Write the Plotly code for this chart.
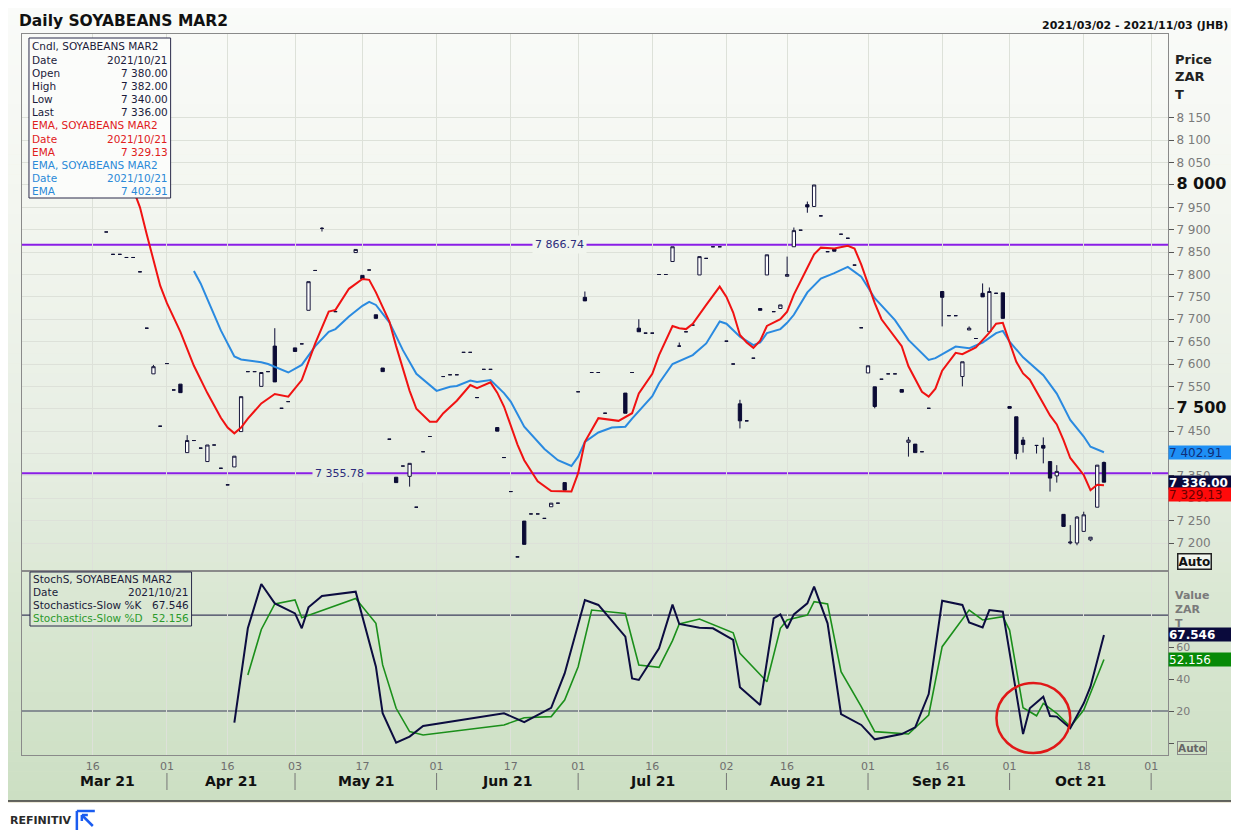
import plotly.graph_objects as go
import pandas as pd

# ---------------- data ----------------
holidays = ["2021-03-22", "2021-04-02", "2021-04-05", "2021-04-27",
            "2021-06-16", "2021-08-09", "2021-09-24"]
trading_dates = [d.strftime("%Y-%m-%d") for d in pd.bdate_range("2021-03-02", "2021-11-03")
                 if d.strftime("%Y-%m-%d") not in holidays]

# days without a real range (open = high = low = close)
flat_days = ["03-18", "03-19", "03-23", "03-24", "03-25", "03-26", "03-29", "03-31", "04-01", "04-06",
             "04-09", "04-12", "04-14", "04-15", "04-16", "04-21", "04-22", "04-26", "04-29", "04-30",
             "05-04", "05-06", "05-11", "05-18", "05-21", "05-25", "05-27", "05-28", "05-31", "06-02",
             "06-03", "06-04", "06-07", "06-08", "06-09", "06-10", "06-11", "06-15", "06-17", "06-18",
             "06-22", "06-23", "06-24", "06-28", "07-01", "07-05", "07-06", "07-07", "07-13", "07-15",
             "07-16", "07-19", "07-20", "07-23", "07-26", "07-28", "07-29", "07-30", "08-02", "08-03",
             "08-05", "08-06", "08-12", "08-18", "08-23", "08-24", "08-26", "08-27", "08-30", "08-31",
             "09-03", "09-06", "09-07", "09-13", "09-14", "09-17", "09-20", "09-23", "09-29"]
flat_price = [7895, 7845, 7845, 7838, 7838, 7806, 7680, 7461, 7601, 7542,
              7429, 7412, 7419, 7367, 7330, 7583, 7583, 7583, 7501, 7516,
              7645, 7809, 7717, 7810, 7432, 7372, 7280, 7404, 7438, 7572,
              7576, 7576, 7626, 7626, 7525, 7588, 7588, 7391, 7315, 7169,
              7265, 7265, 7255, 7289, 7538, 7581, 7581, 7490, 7581, 7669,
              7669, 7800, 7800, 7672, 7687, 7836, 7862, 7862, 7651, 7600,
              7473, 7613, 7717, 7899, 7931, 7851, 7890, 7881, 7821, 7681,
              7566, 7578, 7578, 7404, 7501, 7708, 7708, 7657, 7758]

bar_days = ["03-30", "04-07", "04-08", "04-13", "04-19", "04-20", "04-23", "04-28", "05-03", "05-05",
            "05-07", "05-14", "05-17", "05-19", "05-20", "05-24", "05-26", "06-14", "06-21", "06-25",
            "06-29", "07-02", "07-12", "07-14", "07-21", "07-22", "07-27", "08-04", "08-10", "08-11",
            "08-13", "08-16", "08-17", "08-19", "08-20", "08-25", "09-01", "09-02", "09-08", "09-09",
            "09-10", "09-16", "09-21", "09-22", "09-27", "09-28", "09-30", "10-01", "10-04", "10-05",
            "10-07", "10-08", "10-11", "10-12", "10-13", "10-14", "10-15", "10-18", "10-19", "10-20",
            "10-21"]
bar_open = [7578, 7555, 7402, 7382, 7370, 7449, 7550, 7640, 7636, 7720,
            7903, 7849, 7798, 7710, 7591, 7347, 7349, 7458, 7249, 7281,
            7335, 7749, 7535, 7680, 7829, 7640, 7799, 7511, 7724, 7799,
            7724, 7796, 7862, 7956, 7952, 7858, 7580, 7549, 7543, 7425,
            7421, 7762, 7572, 7676, 7758, 7672, 7759, 7505, 7482, 7430,
            7418, 7418, 7382, 7350, 7264, 7200, 7200, 7226, 7207, 7280,
            7380]
bar_high = [7598, 7555, 7441, 7419, 7394, 7527, 7581, 7680, 7636, 7784,
            7906, 7856, 7798, 7710, 7591, 7347, 7378, 7458, 7249, 7289,
            7335, 7762, 7535, 7700, 7862, 7648, 7840, 7520, 7724, 7844,
            7732, 7840, 7905, 7963, 8000, 7858, 7596, 7549, 7543, 7437,
            7421, 7762, 7605, 7684, 7780, 7771, 7759, 7505, 7482, 7437,
            7418, 7436, 7382, 7374, 7264, 7240, 7260, 7270, 7213, 7374,
            7382]
bar_low = [7578, 7536, 7402, 7382, 7370, 7449, 7550, 7560, 7628, 7720,
           7896, 7849, 7790, 7702, 7583, 7335, 7326, 7450, 7197, 7281,
           7318, 7741, 7490, 7672, 7829, 7640, 7799, 7456, 7720, 7799,
           7724, 7796, 7862, 7938, 7952, 7852, 7580, 7501, 7537, 7393,
           7402, 7684, 7550, 7676, 7750, 7672, 7702, 7501, 7387, 7402,
           7400, 7378, 7315, 7335, 7237, 7197, 7195, 7226, 7204, 7280,
           7340]
bar_close = [7594, 7536, 7429, 7419, 7394, 7527, 7581, 7560, 7628, 7784,
             7903, 7856, 7790, 7702, 7583, 7335, 7378, 7450, 7197, 7289,
             7318, 7741, 7490, 7672, 7862, 7640, 7840, 7473, 7720, 7844,
             7732, 7800, 7898, 7951, 8000, 7852, 7596, 7505, 7537, 7430,
             7402, 7749, 7605, 7680, 7750, 7762, 7702, 7501, 7400, 7420,
             7418, 7412, 7345, 7360, 7237, 7202, 7258, 7263, 7213, 7374,
             7336]

ema_fast_days = ["03-25", "03-26", "03-29", "03-30", "03-31", "04-01", "04-07", "04-09", "04-13", "04-15",
                 "04-16", "04-19", "04-20", "04-21", "04-23", "04-28", "04-30", "05-04", "05-06", "05-10",
                 "05-11", "05-13", "05-17", "05-18", "05-19", "05-21", "05-24", "05-26", "05-27", "05-31",
                 "06-01", "06-02", "06-04", "06-08", "06-09", "06-11", "06-14", "06-15", "06-18", "06-21",
                 "06-23", "06-25", "06-30", "07-01", "07-02", "07-06", "07-08", "07-09", "07-13", "07-14",
                 "07-16", "07-19", "07-21", "07-22", "07-23", "07-26", "07-28", "07-30", "08-02", "08-03",
                 "08-04", "08-05", "08-06", "08-10", "08-11", "08-13", "08-16", "08-17", "08-19", "08-20",
                 "08-23", "08-25", "08-27", "08-30", "08-31", "09-01", "09-02", "09-03", "09-08", "09-09",
                 "09-13", "09-14", "09-15", "09-16", "09-20", "09-21", "09-23", "09-28", "09-29", "09-30",
                 "10-01", "10-04", "10-05", "10-06", "10-08", "10-11", "10-12", "10-13", "10-14", "10-18",
                 "10-19", "10-20", "10-21"]
ema_fast = [7990, 7950, 7890, 7830, 7775, 7736, 7672, 7596, 7535, 7480,
            7458, 7445, 7458, 7478, 7512, 7533, 7527, 7564, 7646, 7717,
            7721, 7768, 7790, 7788, 7760, 7695, 7640, 7540, 7500, 7471,
            7471, 7490, 7518, 7553, 7546, 7559, 7536, 7505, 7420, 7385,
            7338, 7316, 7315, 7356, 7426, 7479, 7476, 7473, 7490, 7534,
            7578, 7620, 7685, 7680, 7678, 7690, 7732, 7773, 7750, 7715,
            7665, 7648, 7636, 7652, 7685, 7700, 7717, 7755, 7815, 7845,
            7860, 7858, 7864, 7858, 7822, 7780, 7736, 7700, 7640, 7595,
            7538, 7527, 7545, 7585, 7625, 7622, 7637, 7670, 7690, 7692,
            7650, 7605, 7579, 7565, 7512, 7485, 7465, 7430, 7390, 7352,
            7318, 7330, 7329.13]

ema_slow_days = ["04-09", "04-12", "04-13", "04-15", "04-19", "04-20", "04-23", "04-26", "04-30", "05-04",
                 "05-06", "05-10", "05-11", "05-13", "05-17", "05-18", "05-19", "05-21", "05-25", "05-27",
                 "06-01", "06-03", "06-04", "06-08", "06-09", "06-11", "06-15", "06-17", "06-21", "06-24",
                 "06-28", "06-30", "07-01", "07-02", "07-06", "07-08", "07-12", "07-13", "07-16", "07-19",
                 "07-21", "07-26", "07-28", "07-30", "08-02", "08-04", "08-06", "08-10", "08-11", "08-13",
                 "08-16", "08-17", "08-19", "08-23", "08-25", "08-27", "08-31", "09-02", "09-07", "09-09",
                 "09-14", "09-15", "09-20", "09-22", "09-27", "09-29", "09-30", "10-01", "10-05", "10-08",
                 "10-12", "10-14", "10-18", "10-19", "10-21"]
ema_slow = [7808, 7780, 7745, 7675, 7617, 7610, 7604, 7600, 7581, 7598,
            7640, 7672, 7678, 7706, 7730, 7739, 7732, 7693, 7631, 7578,
            7540, 7549, 7551, 7563, 7560, 7564, 7535, 7516, 7460, 7410,
            7385, 7372, 7393, 7426, 7447, 7458, 7460, 7478, 7528, 7557,
            7600, 7620, 7646, 7695, 7690, 7661, 7642, 7648, 7669, 7678,
            7692, 7710, 7760, 7791, 7803, 7817, 7795, 7747, 7698, 7654,
            7609, 7613, 7639, 7635, 7648, 7669, 7674, 7650, 7615, 7575,
            7534, 7475, 7438, 7415, 7402.91]

k_days = ["04-19", "04-21", "04-23", "04-28", "05-03", "05-04", "05-05", "05-07", "05-14", "05-19",
          "05-20", "05-24", "05-26", "05-28", "06-15", "06-21", "06-25", "06-29", "07-02", "07-06",
          "07-12", "07-13", "07-14", "07-19", "07-21", "07-22", "07-27", "07-29", "08-03", "08-04",
          "08-10", "08-12", "08-13", "08-16", "08-17", "08-19", "08-20", "08-24", "08-26", "08-31",
          "09-02", "09-08", "09-10", "09-14", "09-16", "09-21", "09-22", "09-27", "09-28", "09-30",
          "10-05", "10-06", "10-08", "10-11", "10-12", "10-14", "10-18", "10-19", "10-21"]
stoch_k = [12.7, 71.7, 99.4, 87.3, 81.0, 71.7, 84.8, 91.9, 94.6, 47.7,
           18.6, 0.2, 4.0, 10.6, 18.6, 13.0, 22.0, 43.5, 89.4, 86.3,
           66.5, 40.4, 39.4, 59.2, 86.5, 74.4, 72.1, 71.7, 64.4, 34.8,
           23.8, 77.9, 80.4, 71.7, 80.4, 87.3, 97.7, 74.8, 18.1, 11.3,
           2.3, 5.6, 9.8, 30.6, 88.9, 86.3, 75.4, 72.3, 83.1, 82.1,
           5.6, 21.7, 28.9, 16.9, 16.5, 9.2, 24.8, 35.2, 67.546]

d_days = ["04-21", "04-23", "04-28", "05-03", "05-04", "05-14", "05-19", "05-20", "05-24", "05-26",
          "05-28", "06-15", "06-21", "06-25", "06-29", "07-01", "07-05", "07-12", "07-14", "07-19",
          "07-21", "07-22", "07-27", "08-03", "08-04", "08-11", "08-13", "08-16", "08-19", "08-20",
          "08-24", "08-26", "08-31", "09-02", "09-09", "09-14", "09-16", "09-22", "09-27", "09-30",
          "10-01", "10-05", "10-07", "10-08", "10-12", "10-14", "10-18", "10-21"]
stoch_d = [42.5, 71.0, 86.9, 89.4, 78.3, 90.4, 74.8, 48.8, 21.7, 7.1,
           5.0, 11.3, 15.8, 16.5, 26.9, 47.7, 83.1, 81.0, 48.8, 47.3,
           64.0, 74.4, 77.5, 68.9, 56.0, 38.3, 71.7, 76.9, 80.0, 88.3,
           86.9, 44.6, 22.7, 7.1, 5.6, 17.5, 60.2, 83.1, 76.9, 79.0,
           70.6, 22.0, 17.0, 24.8, 18.6, 10.2, 20.6, 52.156]

level_hi = 7866.74
level_lo = 7355.78
stoch_levels = [80, 20]

x_tick_days = ["03-16", "04-01", "04-16", "05-03", "05-17", "06-01", "06-17", "07-01",
               "07-16", "08-02", "08-16", "09-01", "09-16", "10-01", "10-18", "11-01"]
x_tick_text = ["16", "01", "16", "03", "17", "01", "17", "01",
               "16", "02", "16", "01", "16", "01", "18", "01"]
month_labels = ["Mar 21", "Apr 21", "May 21", "Jun 21", "Jul 21", "Aug 21", "Sep 21", "Oct 21"]
month_starts = ["04-01", "05-03", "06-01", "07-01", "08-02", "09-01", "10-01", "11-01"]
price_ticks = [7200, 7250, 7300, 7350, 7400, 7450, 7500, 7550, 7600, 7650,
               7700, 7750, 7800, 7850, 7900, 7950, 8000, 8050, 8100, 8150]
stoch_ticks = [0, 20, 40, 60]
stoch_ticktext = ["", "20", "40", "60"]

# ---------------- geometry (screen pixels; the page body adds an 8 px margin) ----------------
OFF = 8
W, H = 1239 - OFF, 830 - OFF
SX0, SX1, SY0, SY1 = 22, 1171, 34, 755        # plot area in screen pixels
L, R, T, B = SX0 - OFF, 1239 - SX1, SY0 - OFF, 830 - SY1
PW, PH = SX1 - SX0, SY1 - SY0
FONT = "DejaVu Sans"


def px(x):
    return (x - SX0) / PW


def py(y):
    return (SY1 - y) / PH


def full(d):
    return "2021-" + d


def fmt(v, dec=0):
    return f"{v:,.{dec}f}".replace(",", " ")


grad_stops = [(5, (250, 251, 249)), (200, (243, 246, 240)), (450, (231, 238, 227)),
              (600, (218, 231, 211)), (801, (204, 223, 195))]


def grad_color(y):
    for (y0, c0), (y1, c1) in zip(grad_stops, grad_stops[1:]):
        if y <= y1:
            t = max(0.0, (y - y0) / (y1 - y0))
            c = [round(a + (b - a) * t) for a, b in zip(c0, c1)]
            return f"rgb({c[0]},{c[1]},{c[2]})"
    c = grad_stops[-1][1]
    return f"rgb({c[0]},{c[1]},{c[2]})"


# merge candles
candles = sorted([(full(d), p, p, p, p) for d, p in zip(flat_days, flat_price)] +
                 [(full(d), o, h, l, c) for d, o, h, l, c in zip(bar_days, bar_open, bar_high, bar_low, bar_close)])
cx = [c[0] for c in candles]

fig = go.Figure()
for xa, ya in (("x", "y"), ("x2", "y2")):
    fig.add_trace(go.Scatter(x=trading_dates, y=[None] * len(trading_dates), mode="lines",
                             xaxis=xa, yaxis=ya, showlegend=False, hoverinfo="skip"))

fig.add_trace(go.Candlestick(
    x=cx, open=[c[1] for c in candles], high=[c[2] for c in candles],
    low=[c[3] for c in candles], close=[c[4] for c in candles],
    xaxis="x", yaxis="y", whiskerwidth=0,
    increasing=dict(line=dict(color="#15153a", width=1), fillcolor="#ffffff"),
    decreasing=dict(line=dict(color="#0b0b35", width=1), fillcolor="#0b0b35"),
    showlegend=False, hoverinfo="skip"))

fig.add_trace(go.Scatter(x=[full(d) for d in ema_slow_days], y=ema_slow, mode="lines",
                         line=dict(color="#2a8ae0", width=2), xaxis="x", yaxis="y",
                         showlegend=False, hoverinfo="skip"))
fig.add_trace(go.Scatter(x=[full(d) for d in ema_fast_days], y=ema_fast, mode="lines",
                         line=dict(color="#f01212", width=2), xaxis="x", yaxis="y",
                         showlegend=False, hoverinfo="skip"))
fig.add_trace(go.Scatter(x=[full(d) for d in d_days], y=stoch_d, mode="lines",
                         line=dict(color="#1b8f1b", width=1.6), xaxis="x2", yaxis="y2",
                         showlegend=False, hoverinfo="skip"))
fig.add_trace(go.Scatter(x=[full(d) for d in k_days], y=stoch_k, mode="lines",
                         line=dict(color="#0c0c40", width=2), xaxis="x2", yaxis="y2",
                         showlegend=False, hoverinfo="skip"))

# ---------------- shapes ----------------
shapes = [dict(type="rect", xref="paper", yref="paper", x0=px(0), x1=px(1239), y0=py(803), y1=py(0),
               fillcolor="#ece9d8", line=dict(width=0), layer="below")]
n_str = 80
for i in range(n_str):
    y0 = 5 + i * 796 / n_str
    y1 = y0 + 796 / n_str + 0.6
    shapes.append(dict(type="rect", xref="paper", yref="paper", x0=px(5), x1=px(1236),
                       y0=py(min(y1, 801)), y1=py(y0), fillcolor=grad_color((y0 + y1) / 2),
                       line=dict(width=0), layer="below"))
shapes.append(dict(type="rect", xref="paper", yref="paper", x0=px(5), x1=px(1236), y0=py(801), y1=py(5),
                   line=dict(color="#3a3a3a", width=1.5), layer="below"))

for lv in (level_hi, level_lo):
    shapes.append(dict(type="line", xref="paper", yref="y", x0=0, x1=1, y0=lv, y1=lv,
                       line=dict(color="#8a1ee6", width=2), layer="between"))
for lv in stoch_levels:
    shapes.append(dict(type="line", xref="paper", yref="y2", x0=0, x1=1, y0=lv, y1=lv,
                       line=dict(color="#3c3c5c", width=1.2), layer="between"))

# month separators
for d in month_starts:
    shapes.append(dict(type="line", xref="x2", yref="paper", x0=full(d), x1=full(d),
                       y0=py(790), y1=py(773), line=dict(color="#777777", width=1)))

# info boxes
shapes.append(dict(type="rect", xref="paper", yref="paper", x0=px(29), x1=px(171), y0=py(198), y1=py(38),
                   fillcolor="#fbfcfa", line=dict(color="#2b2b4b", width=1), layer="above"))
shapes.append(dict(type="rect", xref="paper", yref="paper", x0=px(30), x1=px(192), y0=py(626), y1=py(572),
                   fillcolor=grad_color(600), line=dict(color="#2b2b4b", width=1), layer="above"))

# red circle
shapes.append(dict(type="circle", xref="paper", yref="paper", x0=px(999), x1=px(1073), y0=py(753), y1=py(683),
                   line=dict(color="#e01818", width=2.5), layer="above"))

# Refinitiv mark
for (xa, ya, xb, yb) in [(77, 811, 95, 811), (77, 811, 77, 830), (82, 815, 93, 826), (82, 815, 88, 815), (82, 815, 82, 821)]:
    shapes.append(dict(type="line", xref="paper", yref="paper", x0=px(xa), y0=py(ya), x1=px(xb), y1=py(yb),
                       line=dict(color="#1a5cf0", width=2.5)))

# ---------------- annotations ----------------
annotations = []


def ann(x, y, text, size=11, color="#222", bold=False, xanchor="left", yanchor="middle", **kw):
    annotations.append(dict(x=px(x), y=py(y), xref="paper", yref="paper",
                            text=f"<b>{text}</b>" if bold else text, showarrow=False,
                            xanchor=xanchor, yanchor=yanchor,
                            font=dict(family=FONT, size=size, color=color), **kw))


ann(17, 21, "Daily SOYABEANS MAR2", size=15.5, color="#111", bold=True)
ann(1233, 25, "2021/03/02 - 2021/11/03 (JHB)", size=11, color="#111", bold=True, xanchor="right")

NAVY, RED, BLUE, GREEN = "#1b1b3a", "#e0201c", "#2b8ad8", "#2c9a2c"
last_o, last_h, last_l, last_c = bar_open[-1], bar_high[-1], bar_low[-1], bar_close[-1]
last_date = "2021/10/21"
info1 = [("Cndl, SOYABEANS MAR2", "", NAVY), ("Date", last_date, NAVY),
         ("Open", fmt(last_o, 2), NAVY), ("High", fmt(last_h, 2), NAVY),
         ("Low", fmt(last_l, 2), NAVY), ("Last", fmt(last_c, 2), NAVY),
         ("EMA, SOYABEANS MAR2", "", RED), ("Date", last_date, RED), ("EMA", fmt(ema_fast[-1], 2), RED),
         ("EMA, SOYABEANS MAR2", "", BLUE), ("Date", last_date, BLUE), ("EMA", fmt(ema_slow[-1], 2), BLUE)]
for i, (lab, val, col) in enumerate(info1):
    yy = 46.5 + i * 13.15
    ann(30, yy, lab, size=10.5, color=col)
    if val:
        ann(170, yy, val, size=10.5, color=col, xanchor="right")

info2 = [("StochS, SOYABEANS MAR2", "", NAVY), ("Date", last_date, NAVY),
         ("Stochastics-Slow %K", f"{stoch_k[-1]:.3f}", NAVY),
         ("Stochastics-Slow %D", f"{stoch_d[-1]:.3f}", GREEN)]
for i, (lab, val, col) in enumerate(info2):
    yy = 578.5 + i * 13.2
    ann(31, yy, lab, size=10.5, color=col)
    if val:
        ann(191, yy, val, size=10.5, color=col, xanchor="right")

# axis captions
for yy, t in zip((60, 77, 95), ("Price", "ZAR", "T")):
    ann(1176, yy, t, size=13, color="#222", bold=True)
for yy, t in zip((595, 609, 623), ("Value", "ZAR", "T")):
    ann(1176, yy, t, size=11, color="#7a7a7a", bold=True)

# level labels
annotations.append(dict(x=px(561), y=level_hi, xref="paper", yref="y", text=fmt(level_hi, 2),
                        showarrow=False, bgcolor=grad_color(244), borderpad=2,
                        xanchor="center", yanchor="middle",
                        font=dict(family=FONT, size=11, color="#2c2c7c")))
annotations.append(dict(x=px(340), y=level_lo, xref="paper", yref="y", text=fmt(level_lo, 2),
                        showarrow=False, bgcolor=grad_color(472), borderpad=2,
                        xanchor="center", yanchor="middle",
                        font=dict(family=FONT, size=11, color="#2c2c7c")))

# value tags on right axis
tag = dict(xref="paper", x=1, xanchor="left", yanchor="middle", showarrow=False, width=63, height=13,
           align="left", borderpad=0)
annotations.append(dict(tag, y=ema_slow[-1], yref="y", text=fmt(ema_slow[-1], 2), bgcolor="#1e8ff5",
                        font=dict(family=FONT, size=12, color="#102e78")))
annotations.append(dict(tag, y=last_c, yref="y", text=f"<b>{fmt(last_c, 2)}</b>", bgcolor="#0a0a3c",
                        font=dict(family=FONT, size=12, color="#ffffff")))
annotations.append(dict(tag, y=py(495), yref="paper", text=fmt(ema_fast[-1], 2), bgcolor="#ff0a0a",
                        font=dict(family=FONT, size=12, color="#6a0000")))
annotations.append(dict(tag, y=stoch_k[-1], yref="y2", text=f"<b>{stoch_k[-1]:.3f}</b>", bgcolor="#0a0a3c",
                        font=dict(family=FONT, size=12, color="#ffffff")))
annotations.append(dict(tag, y=stoch_d[-1], yref="y2", text=f"{stoch_d[-1]:.3f}", bgcolor="#078a07",
                        font=dict(family=FONT, size=12, color="#ffffff")))

# Auto boxes
annotations.append(dict(x=px(1198), y=py(561), xref="paper", yref="paper", text="<b>Auto</b>",
                        xanchor="center", yanchor="middle",
                        showarrow=False, bordercolor="#222", borderwidth=1.5, borderpad=0, bgcolor="#f2f5ef",
                        font=dict(family=FONT, size=12, color="#111")))
annotations.append(dict(x=px(1195), y=py(748), xref="paper", yref="paper", text="<b>Auto</b>",
                        xanchor="center", yanchor="middle",
                        showarrow=False, bordercolor="#888", borderwidth=1, borderpad=0,
                        font=dict(family=FONT, size=10.5, color="#666")))

# month labels
ms_idx = [trading_dates.index(full(d)) for d in month_starts]
month_pos = [12.2] + [(a + b) / 2 for a, b in zip(ms_idx[:-1], ms_idx[1:])]
for lab, xpos in zip(month_labels, month_pos):
    annotations.append(dict(x=xpos, y=py(781), xref="x2", yref="paper", text=f"<b>{lab}</b>",
                            xanchor="center", yanchor="middle",
                            showarrow=False, font=dict(family=FONT, size=14, color="#111")))

ann(8, 820, "<b>REFINITIV</b>", size=11, color="#2a2a2a")

# ---------------- axes ----------------
price_ticktext = [f"<b><span style='font-size:16px;color:#111'>{fmt(v)}</span></b>" if v in (8000, 7500)
                  else fmt(v) for v in price_ticks]
GRID = "#dde1d9"
xcommon = dict(type="category", categoryorder="array", categoryarray=trading_dates,
               range=[-0.5, len(trading_dates) - 0.5], tickmode="array",
               tickvals=[full(d) for d in x_tick_days], showgrid=True, gridcolor=GRID, gridwidth=1,
               ticks="", showline=True, mirror=True, linecolor="#8a8a8a", zeroline=False,
               fixedrange=True)

fig.update_layout(
    width=W, height=H, autosize=False,
    margin=dict(l=L, r=R, t=T, b=B, pad=0),
    paper_bgcolor="#ffffff", plot_bgcolor="rgba(0,0,0,0)",
    showlegend=False, hovermode=False,
    font=dict(family=FONT, size=11, color="#333"),
    xaxis=dict(xcommon, anchor="y", showticklabels=False, rangeslider=dict(visible=False)),
    xaxis2=dict(xcommon, anchor="y2", showticklabels=True, ticktext=x_tick_text,
                tickfont=dict(family=FONT, size=11, color="#6e6e6e"), ticklabelstandoff=1),
    yaxis=dict(domain=[py(570), 1], range=[7139.7, 8337.4], side="right", anchor="x",
               tickmode="array", tickvals=price_ticks, ticktext=price_ticktext,
               tickfont=dict(family=FONT, size=12, color="#7a7a7a"),
               ticks="outside", ticklen=5, tickcolor="#555", showgrid=True, gridcolor=GRID,
               showline=True, mirror=True, linecolor="#8a8a8a", zeroline=False, fixedrange=True),
    yaxis2=dict(domain=[0, py(572)], range=[-7.5, 106.9], side="right", anchor="x2",
                tickmode="array", tickvals=stoch_ticks, ticktext=stoch_ticktext,
                tickfont=dict(family=FONT, size=11, color="#7a7a7a"),
                ticks="outside", ticklen=5, tickcolor="#555", showgrid=False,
                showline=True, mirror=True, linecolor="#8a8a8a", zeroline=False, fixedrange=True),
    shapes=shapes, annotations=annotations,
)

fig.write_html("out.html")
